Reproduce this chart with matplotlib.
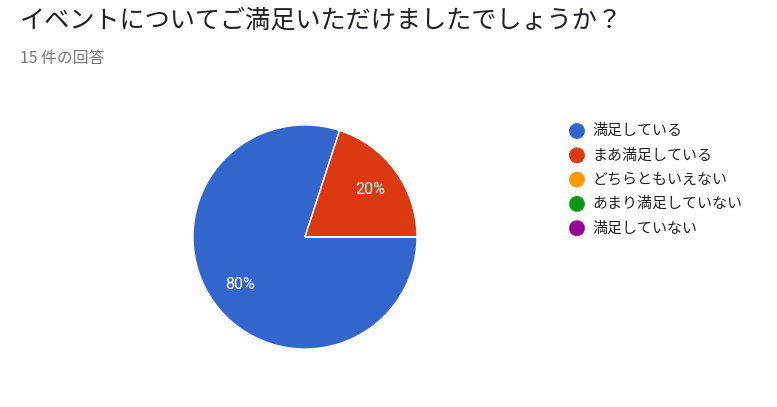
import matplotlib
matplotlib.use('Agg')
from matplotlib import pyplot as plt

plt.rcParams['font.family'] = ['Noto Sans CJK JP', 'DejaVu Sans']

# データ
title = 'イベントについてご満足いただけましたでしょうか？'
subtitle = '15 件の回答'
labels = ['満足している', 'まあ満足している', 'どちらともいえない', 'あまり満足していない', '満足していない']
counts = [12, 3, 0, 0, 0]
colors = ['#3366cc', '#dc3912', '#ff9900', '#109618', '#990099']

W, H = 777, 407
fig = plt.figure(figsize=(W / 100, H / 100), dpi=100)

# 円グラフ (中心 305,237 半径 112 px)
cx, cy, r = 305, 237, 112
ax = fig.add_axes([(cx - r) / W, (H - cy - r) / H, 2 * r / W, 2 * r / H])


def pct(p):
    return '' if p < 0.5 else '%d%%' % round(p)


wedges, texts, autotexts = ax.pie(counts, colors=colors, startangle=0, counterclock=False,
                                  autopct=pct, pctdistance=0.72, radius=1,
                                  wedgeprops=dict(edgecolor='white', linewidth=1))
for t in autotexts:
    t.set_color('white')
    t.set_fontsize(11.5)
    t.set_fontfamily(['Roboto', 'DejaVu Sans'])
ax.set_xlim(-1, 1)
ax.set_ylim(-1, 1)
ax.set_aspect('equal')
ax.axis('off')

# タイトル
fig.text(20 / W, 1 - 21 / H, title, fontsize=18.1, color='#202124', va='center', ha='left')
fig.text(20 / W, 1 - 59 / H, subtitle, fontsize=11.4, color='#757575', va='center', ha='left')

# 凡例
lax = fig.add_axes([0, 0, 1, 1])
lax.set_xlim(0, W)
lax.set_ylim(H, 0)
lax.axis('off')
for i, (lab, col) in enumerate(zip(labels, colors)):
    y = 131 + i * 24.3
    lax.scatter([577], [y], s=130, color=col, edgecolors='none')
    lax.text(592, y, lab, fontsize=10.8, color='#222222', va='center', ha='left')

fig.savefig('out.png', dpi=100)
